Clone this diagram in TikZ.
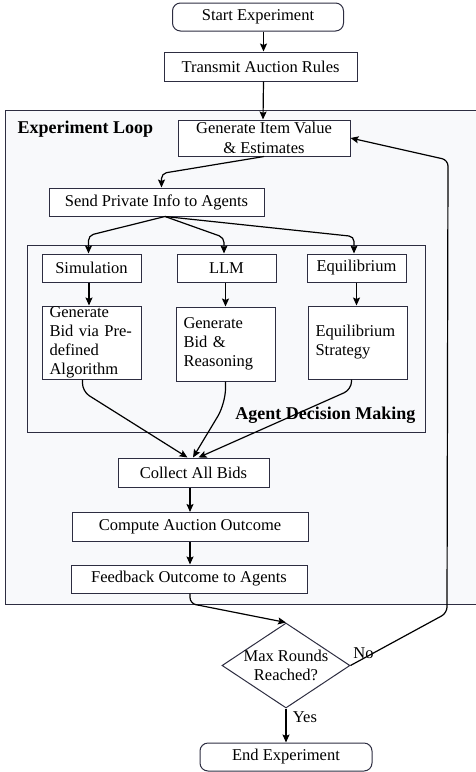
\documentclass[tikz,border=0pt]{standalone}
\usepackage{fontspec}
\setmainfont{Liberation Serif}
\usepackage{tikz}
\usepackage{xcolor}
\usetikzlibrary{shapes.geometric,positioning,arrows.meta}
\definecolor{boxline}{RGB}{45,45,65}
\definecolor{loopfill}{RGB}{248,249,251}
\tikzstyle{proc} = [rectangle, draw=boxline, fill=white, line width=1pt, inner sep=0pt]
\tikzstyle{term} = [proc, rounded corners=8pt, minimum height=28pt]
\tikzstyle{algo} = [proc, align=left, text width=84pt, inner xsep=7.5pt, minimum height=73pt]
\tikzstyle{choice} = [diamond, draw=boxline, fill=white, line width=1pt, aspect=1.5, minimum width=128pt, minimum height=85pt, inner sep=-3pt, align=center]
\tikzstyle{title} = [font=\fontsize{18}{20}\selectfont\bfseries, inner sep=0pt]

\begin{document}
\begin{tikzpicture}[x=1pt,y=-1pt,>={Stealth[length=8pt,width=7pt,inset=1.5pt]},line width=1.2pt,font=\fontsize{16.5}{19}\selectfont]
  \useasboundingbox (0,0) rectangle (476,772);
  % loop frames
  \fill[loopfill] (5,110) rectangle (476,604);
  \draw[boxline, line width=1pt] (476,110) -- (5,110) -- (5,604) -- (476,604);
  \draw[boxline, line width=1pt] (27,245) rectangle (425,432);

  \node[term, minimum width=171pt] (start) at (258,17) {Start Experiment};
  \node[proc, minimum width=193pt, minimum height=29pt] (transmit) at (260.5,66.5) {Transmit Auction Rules};
  \node[proc, minimum width=172pt, minimum height=36pt, align=center, font=\fontsize{16.5}{20}\selectfont] (gen_item) at (264,138) {Generate Item Value\\\& Estimates};
  \node[proc, minimum width=215pt, minimum height=28pt] (send_info) at (156.5,202) {Send Private Info to Agents};
  \node[proc, minimum width=99pt, minimum height=28pt] (sim) at (91.5,268) {Simulation};
  \node[proc, minimum width=99pt, minimum height=28pt] (llm) at (226.5,268) {LLM};
  \node[proc, minimum width=99pt, minimum height=28pt] (equi) at (356.5,268) {Equilibrium};
  \node[algo] (sim_bid) at (91.5,342.5) {Generate\\Bid via Pre-\\defined\\Algorithm};
  \node[algo, minimum height=74pt] (llm_bid) at (225.5,344) {Generate\\Bid \&\\Reasoning};
  \node[algo] (equi_strat) at (357.5,342.5) {Equilibrium\\Strategy};
  \node[proc, minimum width=151pt, minimum height=29pt] (collect) at (193.5,472.5) {Collect All Bids};
  \node[proc, minimum width=236pt, minimum height=29pt] (compute) at (190,527) {Compute Auction Outcome};
  \node[proc, minimum width=236pt, minimum height=28pt] (feedback) at (189,579) {Feedback Outcome to Agents};
  \node[choice] (decide) at (286,665.5) {Max Rounds\\Reached?};
  \node[term, minimum width=172pt] (stop) at (286,757) {End Experiment};

  \node[title, anchor=west] (loop_title) at (17,129) {Experiment Loop};
  \node[title, anchor=east] (agent_title) at (416,415) {Agent Decision Making};

  % main flow
  \draw[->] ([xshift=3pt]transmit.north |- start.south) -- ([xshift=3pt]transmit.north);
  \draw[->] ([xshift=3pt]transmit.south) -- ([xshift=-1pt]gen_item.north);
  \draw[->, rounded corners=5pt] (gen_item.south) -- ([xshift=5pt,yshift=14pt]send_info.north) -- ([xshift=5pt]send_info.north);
  \draw[->, rounded corners=5pt] ([xshift=8.5pt]send_info.south) -- ([xshift=-3pt,yshift=18pt]sim.north) -- ([xshift=-3pt]sim.north);
  \draw[->, rounded corners=5pt] ([xshift=8.5pt]send_info.south) -- ([xshift=-2.5pt,yshift=16pt]llm.north) -- ([xshift=-2.5pt]llm.north);
  \draw[->, rounded corners=5pt] ([xshift=8.5pt]send_info.south) -- ([xshift=-2.5pt,yshift=17pt]equi.north) -- ([xshift=-2.5pt]equi.north);
  \draw[->] ([xshift=-2.5pt]sim.south) -- ([xshift=-2.5pt]sim_bid.north);
  \draw[->] ([xshift=-1pt]llm.south) -- (llm_bid.north);
  \draw[->] (equi.south) -- ([xshift=-1pt]equi_strat.north);
  \draw[->, rounded corners=8pt] ([xshift=-9pt]sim_bid.south) -- ++(0,12) -- ([xshift=-6pt]collect.north);
  \draw[->, rounded corners=15pt] (llm_bid.south) -- ++(0,22) -- ([xshift=-0.5pt]collect.north);
  \draw[->, rounded corners=8pt] ([xshift=-6pt]equi_strat.south) -- ++(0,10) -- ([xshift=5pt]collect.north);
  \draw[->] (compute.north |- collect.south) -- (compute.north);
  \draw[->] (compute.south) -- (compute.south |- feedback.north);
  \draw[->, rounded corners=6pt] ([xshift=1pt]feedback.south) -- ++(0,10) -- (decide.north);

  % loop back and exit
  \draw[->, rounded corners=6pt] (decide.east) node[above right, xshift=-1pt, yshift=3pt] (no_lbl) {No} -- (447,613) -- (448,160) -- (gen_item.east);
  \draw[->] (decide.south) -- node[right, pos=0.25, xshift=3pt] (yes_lbl) {Yes} (stop.north);
\end{tikzpicture}
\end{document}
